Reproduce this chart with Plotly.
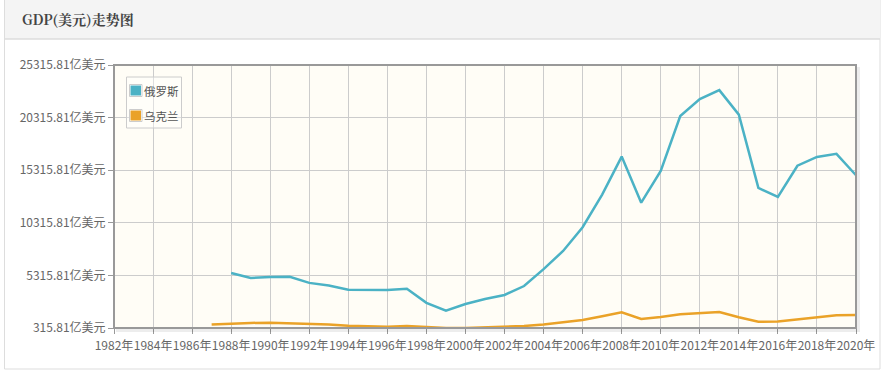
import plotly.graph_objects as go

years_ru = list(range(1988, 2021))
russia = [5547, 5065, 5168, 5180, 4603, 4351, 3951, 3955, 3917, 4049,
          2710, 1959, 2597, 3066, 3455, 4303, 5910, 7640, 9899, 12997,
          16608, 12226, 15249, 20459, 22083, 22925, 20592, 13635, 12768, 15742,
          16573, 16874, 14835]
years_ua = list(range(1987, 2021))
ukraine = [640, 747, 800, 815, 775, 739, 657, 526, 482, 446,
           502, 419, 318, 315.81, 380, 424, 501, 649, 861, 1078,
           1427, 1800, 1172, 1360, 1632, 1758, 1833, 1335, 910, 934,
           1122, 1309, 1538, 1556]
names = ["俄罗斯", "乌克兰"]
colors = ["#4bb2c5", "#EAA228"]
y_ticks = [315.81 + 5000 * k for k in range(6)]
y_labels = [f"{v:.2f}亿美元" for v in y_ticks]
x_ticks = list(range(1982, 2021, 2))
x_labels = [f"{y}年" for y in x_ticks]
title = "GDP(美元)走势图"

W, H = 881, 373
L, R, T, B = 114, 25, 65, 45
pw, ph = W - L - R, H - T - B

def px(x):
    return (x - L) / pw

def py(y):
    return (H - B - y) / ph

fig = go.Figure()
for xs, ys, n, c in [(years_ru, russia, names[0], colors[0]), (years_ua, ukraine, names[1], colors[1])]:
    fig.add_trace(go.Scatter(x=xs, y=ys, mode="lines", name=n,
                             line=dict(color=c, width=2.5), showlegend=False,
                             hovertemplate="%{x}年: %{y}亿美元<extra>" + n + "</extra>"))

shapes = []
annotations = []
# panel border
shapes.append(dict(type="rect", xref="paper", yref="paper", x0=px(4.5), x1=px(880), y0=py(369), y1=py(0),
                   line=dict(color="#dddddd", width=1), fillcolor="rgba(0,0,0,0)", layer="below"))
# header
shapes.append(dict(type="rect", xref="paper", yref="paper", x0=px(5), x1=px(880), y0=py(39), y1=py(0),
                   line=dict(width=0), fillcolor="#f4f4f4", layer="below"))
shapes.append(dict(type="line", xref="paper", yref="paper", x0=px(5), x1=px(880), y0=py(39), y1=py(39),
                   line=dict(color="#dddddd", width=1.5), layer="below"))
# plot shadow
shapes.append(dict(type="path", xref="paper", yref="paper",
                   path=f"M {px(858.5)} {py(67)} L {px(858.5)} {py(330.5)} L {px(116)} {py(330.5)}",
                   line=dict(color="rgba(0,0,0,0.07)", width=3), layer="above"))
# plot border
shapes.append(dict(type="rect", xref="paper", yref="paper", x0=0, x1=1, y0=0, y1=1,
                   line=dict(color="#999999", width=2), layer="above"))

# manual legend
shapes.append(dict(type="rect", xref="paper", yref="paper", x0=px(126.5), x1=px(181.5), y0=py(128), y1=py(77),
                   line=dict(color="#cccccc", width=1), fillcolor="rgba(255,255,255,0.35)", layer="above"))
for i, (n, c) in enumerate(zip(names, colors)):
    top = 84.5 + i * 25
    shapes.append(dict(type="rect", xref="paper", yref="paper", x0=px(129.5), x1=px(142), y0=py(top + 12), y1=py(top),
                       line=dict(color="#cccccc", width=1), fillcolor="white", layer="above"))
    shapes.append(dict(type="rect", xref="paper", yref="paper", x0=px(130.5), x1=px(141), y0=py(top + 11), y1=py(top + 1),
                       line=dict(width=0), fillcolor=c, layer="above"))
    annotations.append(dict(text=n, xref="paper", yref="paper", x=px(142), y=py(top + 6.3),
                            xanchor="left", yanchor="middle", showarrow=False,
                            font=dict(size=11.5, color="#555555")))

annotations.append(dict(text="<b>" + title + "</b>", xref="paper", yref="paper",
                        x=px(20), y=py(19.5), xanchor="left", yanchor="middle", showarrow=False,
                        font=dict(size=14, color="#444444",
                                  family="Noto Serif CJK SC, Noto Sans CJK SC, serif")))

fig.update_layout(
    width=W, height=H,
    margin=dict(l=L, r=R, t=T, b=B, pad=0, autoexpand=False),
    paper_bgcolor="white", plot_bgcolor="#fffdf6",
    font=dict(family="Noto Sans CJK SC, Noto Sans, sans-serif", size=12, color="#666666"),
    shapes=shapes,
    annotations=annotations,
    showlegend=False,
)
fig.update_xaxes(range=[1982, 2020.0001], tickvals=x_ticks, ticktext=x_labels, tickangle=0,
                 showgrid=True, gridcolor="#cccccc", gridwidth=1, zeroline=False,
                 ticks="outside", ticklen=5, tickcolor="#999999", showline=False,
                 ticklabelstandoff=2, fixedrange=True, automargin=False)
fig.update_yaxes(range=[315.81, 25315.81], tickvals=y_ticks, ticktext=y_labels,
                 showgrid=True, gridcolor="#cccccc", gridwidth=1, zeroline=False,
                 ticks="outside", ticklen=5, tickcolor="#999999", showline=False,
                 fixedrange=True, automargin=False)

fig.write_html("out.html")
